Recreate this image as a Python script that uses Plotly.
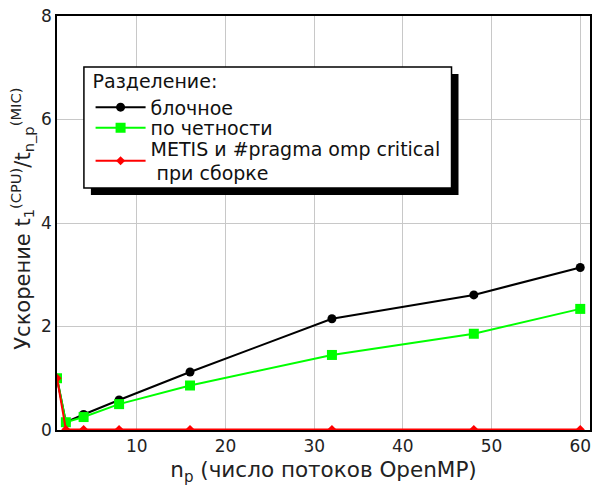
import plotly.graph_objects as go

threads = [1, 2, 4, 8, 16, 32, 48, 60]
block = [1.0, 0.15, 0.3, 0.58, 1.12, 2.15, 2.61, 3.14]
parity = [1.0, 0.15, 0.25, 0.5, 0.86, 1.45, 1.86, 2.34]
metis = [1.0, 0.01, 0.01, 0.01, 0.01, 0.01, 0.01, 0.01]

names = ["блочное", "по четности", "METIS и #pragma omp critical<br> при сборке"]
colors = ["black", "#00ff00", "#ff0000"]
symbols = ["circle", "square", "diamond"]
sizes = [9, 10, 7]
series = [block, parity, metis]
legends = ["legend", "legend2", "legend3"]

fig = go.Figure()
for nm, c, s, sz, ys, lg in zip(names, colors, symbols, sizes, series, legends):
    fig.add_trace(go.Scatter(x=threads, y=ys, name=nm, mode="lines+markers",
                             line=dict(color=c, width=2), legend=lg,
                             marker=dict(symbol=s, size=sz, color=c)))

font = "DejaVu Sans"
lfont = dict(size=19, color="#111")
common = dict(x=0.063, xanchor="left", bgcolor="rgba(0,0,0,0)", borderwidth=0,
              font=lfont, itemwidth=50)
fig.update_layout(
    width=594, height=486,
    margin=dict(l=57, r=2, t=16, b=56),
    plot_bgcolor="white", paper_bgcolor="white",
    font=dict(family=font, size=17, color="#222"),
    showlegend=True,
    legend=dict(y=0.885, yanchor="top",
                title=dict(text="Разделение:", font=lfont), **common),
    legend2=dict(y=0.7295, yanchor="middle", **common),
    legend3=dict(y=0.6498, yanchor="middle", **common),
    shapes=[
        dict(type="rect", xref="paper", yref="paper",
             x0=0.0636, x1=0.7533, y0=0.5676, y1=0.8599,
             fillcolor="black", line=dict(width=0), layer="above"),
        dict(type="rect", xref="paper", yref="paper",
             x0=0.0505, x1=0.7402, y0=0.5845, y1=0.8768,
             fillcolor="white", line=dict(color="black", width=1.5), layer="above"),
    ],
    annotations=[dict(
        text="Ускорение t<sub>1</sub><sup>(CPU)</sup>/t<sub>n_p</sub><sup>(MIC)</sup>",
        xref="paper", yref="paper", x=-0.066, y=0.51, xanchor="center", yanchor="middle",
        textangle=-90, showarrow=False, font=dict(size=21, color="#222"))],
)
fig.update_xaxes(range=[1, 61.1], tickvals=[10, 20, 30, 40, 50, 60],
                 showgrid=True, gridcolor="#c8c8c8", gridwidth=1,
                 showline=True, linecolor="black", linewidth=1.5, mirror=True,
                 ticks="", zeroline=False,
                 title=dict(text="n<sub>p</sub> (число потоков OpenMP)", font=dict(size=21.5), standoff=10),
                 tickfont=dict(size=17))
fig.update_yaxes(range=[0, 8], tickvals=[0, 2, 4, 6, 8],
                 showgrid=True, gridcolor="#c8c8c8", gridwidth=1,
                 showline=True, linecolor="black", linewidth=1.5, mirror=True,
                 ticks="", zeroline=False,
                 tickfont=dict(size=17))

fig.write_html("out.html")
